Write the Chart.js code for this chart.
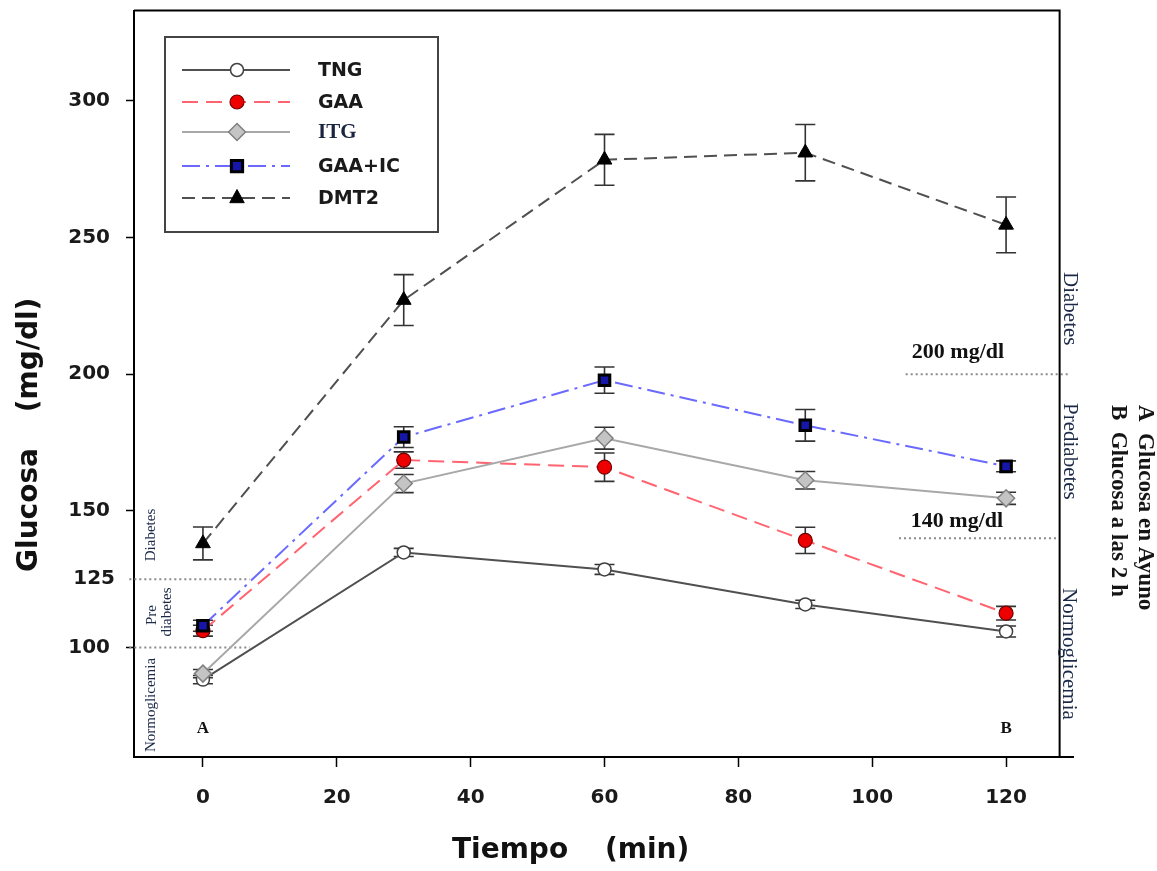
<!DOCTYPE html>
<html><head><meta charset="utf-8">
<script src="https://cdn.jsdelivr.net/npm/chart.js@4.4.1/dist/chart.umd.min.js"></script>
<style>html,body{margin:0;padding:0;background:#fff}</style>
</head><body>
<canvas id="c" width="1157" height="871" style="display:block;width:1157px;height:871px"></canvas>
<script>
// ---- data ----
const times = [0, 30, 60, 90, 120];
const seriesNames = ['TNG', 'GAA', 'ITG', 'GAA+IC', 'DMT2'];
const tngMean   = [88.3, 134.8, 128.6, 115.8, 105.9];
const tngErr    = [1.5, 1.5, 1.8, 1.5, 2.0];
const gaaMean   = [106.2, 168.6, 166.0, 139.2, 112.6];
const gaaErr    = [2.0, 3.0, 5.2, 4.8, 2.5];
const itgMean   = [90.5, 160.0, 176.6, 161.2, 154.6];
const itgErr    = [1.5, 3.3, 4.0, 3.2, 2.2];
const gicMean   = [108.0, 177.0, 197.8, 181.3, 166.3];
const gicErr    = [2.0, 3.8, 4.8, 5.8, 2.0];
const dmMean    = [138.1, 227.1, 278.4, 281.0, 254.6];
const dmErr     = [6.0, 9.3, 9.3, 10.3, 10.2];
const xTicks = [0, 20, 40, 60, 80, 100, 120];
const yTicks = [100, 150, 200, 250, 300];

const pts = (m) => times.map((t, i) => ({ x: t, y: m[i] }));
const errs = [tngErr, gaaErr, itgErr, gicErr, dmErr];

const styles = [
  { borderColor: '#505050', borderDash: [], pointStyle: 'circle', pointRadius: 6.5, pointBackgroundColor: '#ffffff', pointBorderColor: '#404040', pointBorderWidth: 1.5 },
  { borderColor: '#ff6470', borderDash: [16, 8], pointStyle: 'circle', pointRadius: 7, pointBackgroundColor: '#ee0000', pointBorderColor: '#700000', pointBorderWidth: 1.2 },
  { borderColor: '#a8a8a8', borderDash: [], pointStyle: 'rectRot', pointRadius: 8.5, pointBackgroundColor: '#c4c4c4', pointBorderColor: '#808080', pointBorderWidth: 1.5 },
  { borderColor: '#6a6aff', borderDash: [18, 6, 3, 6], pointStyle: 'rect', pointRadius: 7.5, pointBackgroundColor: '#1616a8', pointBorderColor: '#000000', pointBorderWidth: 3 },
  { borderColor: '#505050', borderDash: [13, 7], pointStyle: 'triangle', pointRadius: 8.5, pointBackgroundColor: '#000000', pointBorderColor: '#000000', pointBorderWidth: 1 }
];
const means = [tngMean, gaaMean, itgMean, gicMean, dmMean];

const datasets = means.map((m, i) => Object.assign({
  label: seriesNames[i], data: pts(m), borderWidth: 2, fill: false, tension: 0, order: 5 - i
}, styles[i]));

const SERIF = '"Liberation Serif", "DejaVu Serif", serif';
const SANSB = '"DejaVu Sans", sans-serif';

function rotText(ctx, txt, x, y, ang, font, color, align) {
  ctx.save();
  ctx.translate(x, y); ctx.rotate(ang);
  ctx.font = font; ctx.fillStyle = color;
  ctx.textAlign = align || 'center'; ctx.textBaseline = 'middle';
  ctx.fillText(txt, 0, 0);
  ctx.restore();
}

function marker(ctx, st, x, y) {
  ctx.save();
  ctx.fillStyle = st.pointBackgroundColor; ctx.strokeStyle = st.pointBorderColor; ctx.lineWidth = st.pointBorderWidth;
  const r = st.pointRadius;
  ctx.beginPath();
  if (st.pointStyle === 'circle') { ctx.arc(x, y, r, 0, Math.PI * 2); }
  else if (st.pointStyle === 'rectRot') { ctx.moveTo(x, y - r); ctx.lineTo(x + r, y); ctx.lineTo(x, y + r); ctx.lineTo(x - r, y); ctx.closePath(); }
  else if (st.pointStyle === 'rect') { const s = r * 0.75; ctx.rect(x - s, y - s, 2 * s, 2 * s); }
  else if (st.pointStyle === 'triangle') { ctx.moveTo(x, y - r); ctx.lineTo(x + r * 0.85, y + r * 0.55); ctx.lineTo(x - r * 0.85, y + r * 0.55); ctx.closePath(); }
  ctx.fill(); ctx.stroke();
  ctx.restore();
}

const decor = {
  id: 'decor',
  beforeDatasetsDraw(chart) {
    const ctx = chart.ctx, xs = chart.scales.x, ys = chart.scales.y;
    ctx.save();
    ctx.strokeStyle = '#8a8a8a'; ctx.lineWidth = 2; ctx.setLineDash([2, 3]);
    [[125, -11, 7], [100, -11, 7], [200, 105, 129.5], [140, 104, 128]].forEach(([v, a, b]) => {
      const y = ys.getPixelForValue(v);
      ctx.beginPath(); ctx.moveTo(xs.getPixelForValue(a), y); ctx.lineTo(xs.getPixelForValue(b), y); ctx.stroke();
    });
    ctx.setLineDash([]);
    ctx.strokeStyle = '#333333'; ctx.lineWidth = 1.6;
    means.forEach((m, si) => {
      m.forEach((v, i) => {
        const x = xs.getPixelForValue(times[i]);
        const y1 = ys.getPixelForValue(v + errs[si][i]);
        const y2 = ys.getPixelForValue(v - errs[si][i]);
        ctx.beginPath();
        ctx.moveTo(x, y1); ctx.lineTo(x, y2);
        ctx.moveTo(x - 10, y1); ctx.lineTo(x + 10, y1);
        ctx.moveTo(x - 10, y2); ctx.lineTo(x + 10, y2);
        ctx.stroke();
      });
    });
    ctx.restore();
  },
  afterDraw(chart) {
    const ctx = chart.ctx, xs = chart.scales.x, ys = chart.scales.y, ca = chart.chartArea;
    ctx.save();
    const xr = xs.getPixelForValue(128);
    ctx.strokeStyle = '#000'; ctx.lineWidth = 2;
    ctx.beginPath(); ctx.moveTo(ca.left, ca.top); ctx.lineTo(xr, ca.top); ctx.lineTo(xr, ca.bottom); ctx.stroke();

    // legend
    ctx.strokeStyle = '#444'; ctx.lineWidth = 2;
    ctx.strokeRect(165, 37, 273, 195);
    const rows = [70, 102, 132, 166, 198];
    rows.forEach((ry, i) => {
      const st = styles[i];
      ctx.save();
      ctx.strokeStyle = st.borderColor; ctx.lineWidth = 2; ctx.setLineDash(st.borderDash);
      ctx.beginPath(); ctx.moveTo(182, ry); ctx.lineTo(290, ry); ctx.stroke();
      ctx.restore();
      marker(ctx, st, 237, ry);
      ctx.textAlign = 'left'; ctx.textBaseline = 'middle';
      if (i === 2) { ctx.font = 'bold 21px ' + SERIF; ctx.fillStyle = '#1a2540'; }
      else { ctx.font = 'bold 19px ' + SANSB; ctx.fillStyle = '#1a1a1a'; }
      ctx.fillText(seriesNames[i], 318, ry + 1);
    });

    ctx.font = 'bold 20px ' + SANSB; ctx.fillStyle = '#1a1a1a'; ctx.textAlign = 'right'; ctx.textBaseline = 'middle';
    ctx.fillText('125', 115, ys.getPixelForValue(125));

    ctx.font = 'bold 17px ' + SERIF; ctx.textAlign = 'center'; ctx.fillStyle = '#111';
    ctx.fillText('A', xs.getPixelForValue(0), 729);
    ctx.fillText('B', xs.getPixelForValue(120), 729);

    ctx.font = 'bold 22px ' + SERIF;
    ctx.fillText('200 mg/dl', 958, 352);
    ctx.fillText('140 mg/dl', 957, 521);

    const navy = '#1c2a48';
    rotText(ctx, 'Diabetes', 151, 535, -Math.PI / 2, '15px ' + SERIF, navy);
    rotText(ctx, 'Pre', 152, 615, -Math.PI / 2, '15px ' + SERIF, navy);
    rotText(ctx, 'diabetes', 167, 612, -Math.PI / 2, '15px ' + SERIF, navy);
    rotText(ctx, 'Normoglicemia', 151, 705, -Math.PI / 2, '15px ' + SERIF, navy);

    rotText(ctx, 'Diabetes', 1070, 272, Math.PI / 2, '21px ' + SERIF, navy, 'left');
    rotText(ctx, 'Prediabetes', 1070, 403, Math.PI / 2, '21px ' + SERIF, navy, 'left');
    rotText(ctx, 'Normoglicemia', 1069, 588, Math.PI / 2, '21px ' + SERIF, navy, 'left');
    rotText(ctx, 'A  Glucosa en Ayuno', 1145, 405, Math.PI / 2, 'bold 23px ' + SERIF, '#151515', 'left');
    rotText(ctx, 'B  Glucosa a las 2 h', 1118, 405, Math.PI / 2, 'bold 23px ' + SERIF, '#151515', 'left');

    ctx.font = 'bold 28px ' + SANSB; ctx.fillStyle = '#111'; ctx.textBaseline = 'alphabetic';
    ctx.textAlign = 'left'; ctx.fillText('Tiempo', 452, 858);
    ctx.fillText('(min)', 605, 858);
    rotText(ctx, 'Glucosa', 30, 510, -Math.PI / 2, 'bold 28px ' + SANSB, '#111');
    rotText(ctx, '(mg/dl)', 30, 355, -Math.PI / 2, 'bold 28px ' + SANSB, '#111');
    ctx.restore();
  }
};

new Chart(document.getElementById('c'), {
  type: 'line',
  data: { datasets },
  plugins: [decor],
  options: {
    responsive: false, animation: false, devicePixelRatio: 1,
    layout: { padding: { top: 10, right: 84, left: 0, bottom: 0 } },
    plugins: { legend: { display: false }, tooltip: { enabled: false } },
    scales: {
      x: {
        type: 'linear', min: -10.3, max: 130,
        afterBuildTicks: (s) => { s.ticks = xTicks.map(v => ({ value: v })); },
        afterFit: (s) => { s.height = 114; s.paddingLeft = 0; s.paddingRight = 0; },
        ticks: { font: { family: '"DejaVu Sans"', size: 20, weight: 'bold' }, color: '#1a1a1a', padding: 19, maxRotation: 0 },
        grid: { drawOnChartArea: false, drawTicks: true, tickLength: 10, color: '#000', tickWidth: 1.5 },
        border: { display: true, color: '#000', width: 2 }
      },
      y: {
        type: 'linear', min: 60, max: 333,
        afterBuildTicks: (s) => { s.ticks = yTicks.map(v => ({ value: v })); },
        afterFit: (s) => { s.width = 134; s.paddingTop = 0; s.paddingBottom = 0; },
        ticks: { font: { family: '"DejaVu Sans"', size: 20, weight: 'bold' }, color: '#1a1a1a', padding: 16 },
        grid: { drawOnChartArea: false, drawTicks: true, tickLength: 8, color: '#000', tickWidth: 1.5 },
        border: { display: true, color: '#000', width: 2 }
      }
    }
  }
});
</script>
</body></html>
